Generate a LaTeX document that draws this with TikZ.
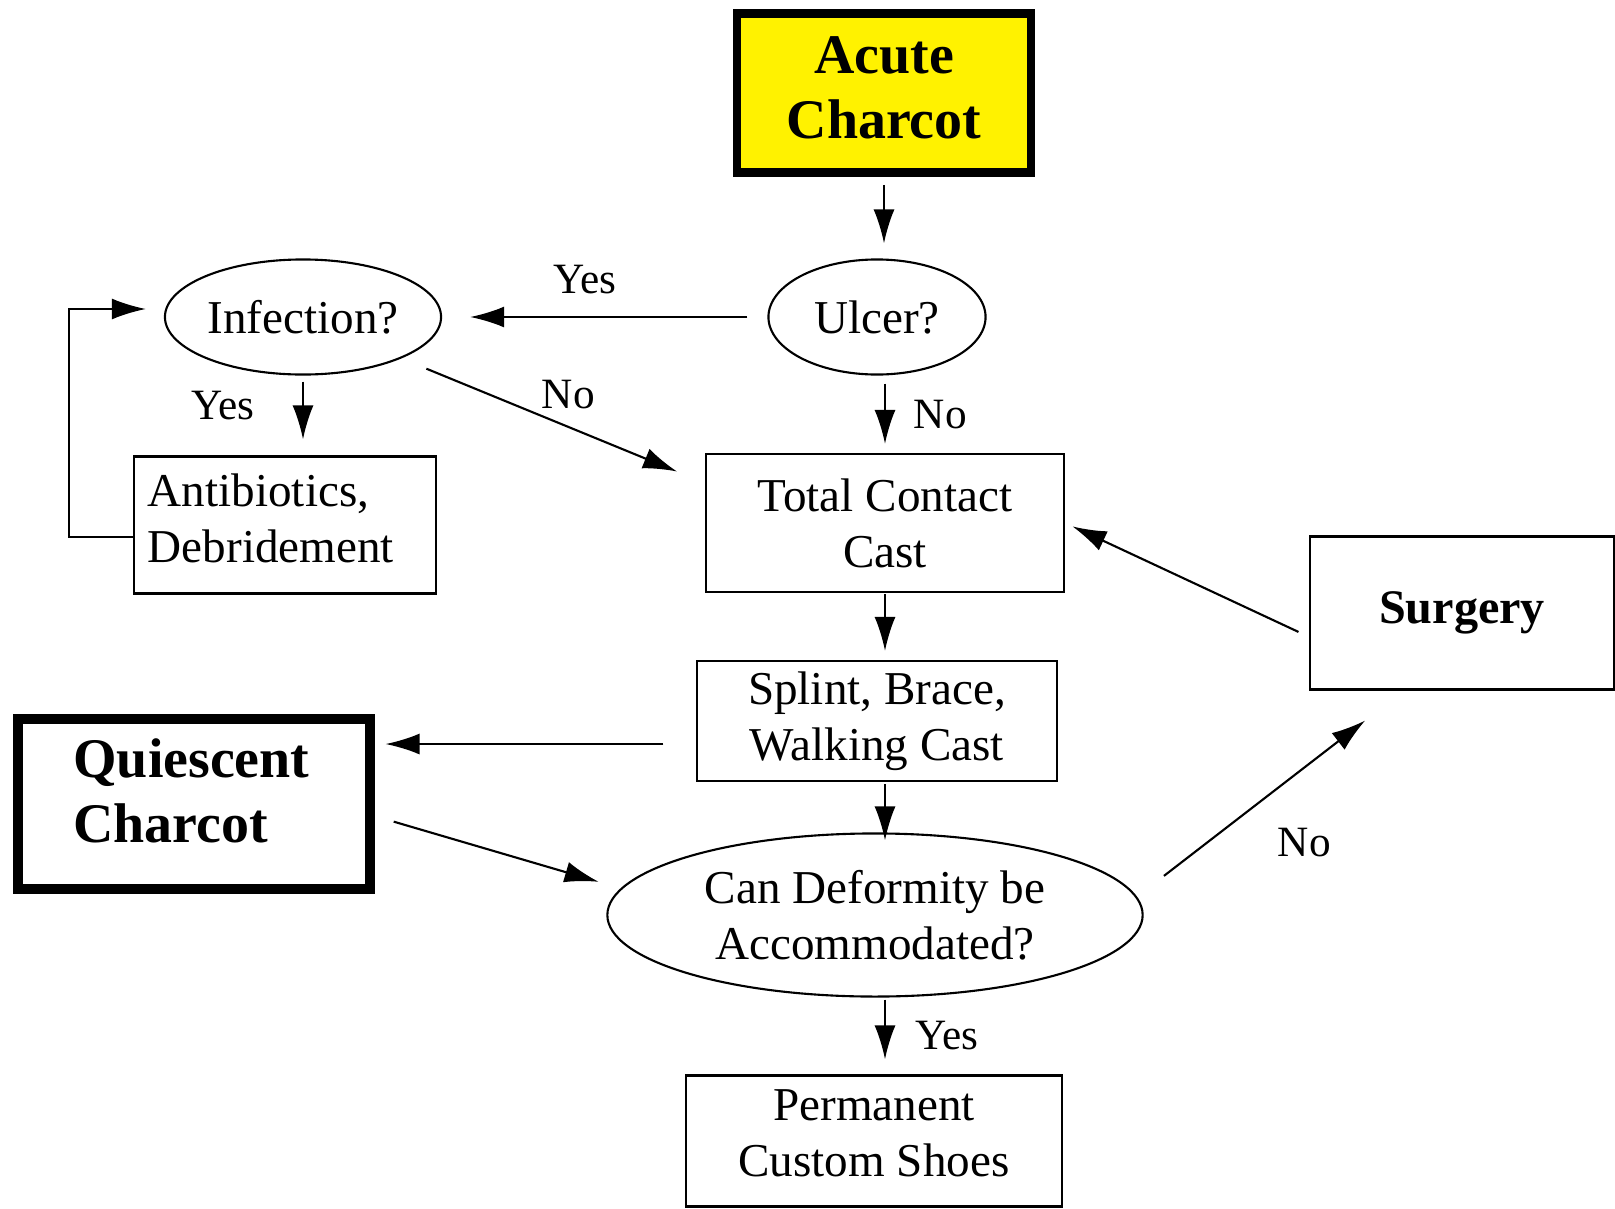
\documentclass[tikz,border=0pt]{standalone}
\usepackage{fontspec}
\setmainfont{Liberation Serif}
\usepackage{tikz}
\usetikzlibrary{shapes.geometric}
\usetikzlibrary{arrows.meta,positioning}

\begin{document}
\begin{tikzpicture}[x=0.01cm,y=-0.01cm,line width=0.6pt,
        box/.style={draw,rectangle,align=center,inner sep=0pt,font=\fontsize{13.4}{15.9}\selectfont},
        query/.style={draw,ellipse,align=center,inner sep=0pt,font=\fontsize{13.4}{15.9}\selectfont},
        stage/.style={draw,rectangle,inner sep=0pt,font=\fontsize{15.9}{18.5}\selectfont\bfseries},
        arr/.style={-{Latex[length=3.4mm,width=2.1mm]}},
        lbl/.style={font=\fontsize{12.3}{14}\selectfont}]
        \useasboundingbox (0,0) rectangle (1615,1209);
        \node[stage,line width=2.4pt,fill=yellow,align=center,text depth=0.1cm,minimum width=2.94cm,minimum height=1.59cm] (acute) at (884,93) {Acute\\Charcot};
        \node[query,minimum width=2.17cm,minimum height=1.15cm] (ulcer) at (877,317) {Ulcer?};
        \node[query,minimum width=2.76cm,minimum height=1.15cm] (infection) at (303,317) {Infection?};
        \node[box,align=left,inner xsep=0.14cm,text width=2.74cm,text depth=0.7cm,minimum height=1.37cm] (antib) at (285,525) {Antibiotics,\\Debridement};
        \node[box,minimum width=3.58cm,minimum height=1.38cm] (tcc) at (885,523) {Total Contact\\Cast};
        \node[box,minimum width=3.59cm,minimum height=1.20cm] (splint) at (877,721) {Splint, Brace,\\Walking Cast};
        \node[stage,line width=2.8pt,align=left,inner xsep=0.55cm,text width=2.41cm,text depth=0.92cm,minimum height=1.70cm] (quiesc) at (194,804) {Quiescent\\Charcot};
        \node[box,font=\fontsize{13.7}{16}\selectfont\bfseries,minimum width=3.03cm,minimum height=1.53cm] (surgery) at (1462,613) {Surgery};
        \node[query,minimum width=5.35cm,minimum height=1.63cm] (deform) at (875,915) {Can Deformity be\\Accommodated?};
        \node[box,text depth=0.16cm,minimum width=3.75cm,minimum height=1.31cm] (shoes) at (874,1141) {Permanent\\Custom Shoes};

        \draw[arr,shorten <=0.08cm,shorten >=0.15cm] (acute.south) -- (acute.south |- ulcer.north);
        \draw[arr,shorten <=0.2cm,shorten >=0.28cm] (ulcer.west) -- node[lbl,pos=0.56,above=0.1cm]{Yes} (infection.east);
        \draw[arr,shorten <=0.06cm,shorten >=0.16cm] (infection.south) -- node[lbl,pos=0.37,left=0.36cm]{Yes} (infection.south |- antib.north);
        \draw[arr,shorten >=0.18cm] ([yshift=-0.12cm]antib.west) -- ++(-64,0) |- ([yshift=0.08cm]infection.west);
        \draw[arr,shorten <=0.27cm,shorten >=0.3cm] (infection.south east) -- node[lbl,pos=0.55,above=0.05cm]{No} ([yshift=-0.3cm]tcc.north west);
        \draw[arr,shorten <=0.08cm,shorten >=0.09cm] (ulcer.south -| tcc.north) -- node[lbl,right=0.16cm]{No} (tcc.north);
        \draw[arr,shorten <=0.01cm,shorten >=0.09cm] (tcc.south) -- (tcc.south |- splint.north);
        \coordinate (sq) at ([yshift=-0.23cm]splint.west);
        \draw[arr,shorten <=0.33cm,shorten >=0.11cm] (sq) -- (sq -| quiesc.east);
        \draw[arr,shorten <=0.2cm,shorten >=0.23cm] ([yshift=-0.12cm]quiesc.east) -- (deform.174);
        \draw[arr,shorten <=0.02cm,shorten >=-0.08cm] (tcc.south |- splint.south) -- (tcc.south |- deform.north);
        \draw[arr,shorten <=0.34cm,shorten >=0.49cm] (deform.4) -- node[lbl,pos=0.48,below right=0.18cm and 0cm]{No} ([xshift=-0.58cm]surgery.south);
        \draw[arr,shorten <=0.12cm,shorten >=0.08cm] ([yshift=-0.24cm]surgery.west) -- (tcc.east);
        \draw[arr,shorten <=0.02cm,shorten >=0.15cm] (tcc.south |- deform.south) -- node[lbl,right=0.18cm]{Yes} (tcc.south |- shoes.north);
    \end{tikzpicture}
\end{document}
